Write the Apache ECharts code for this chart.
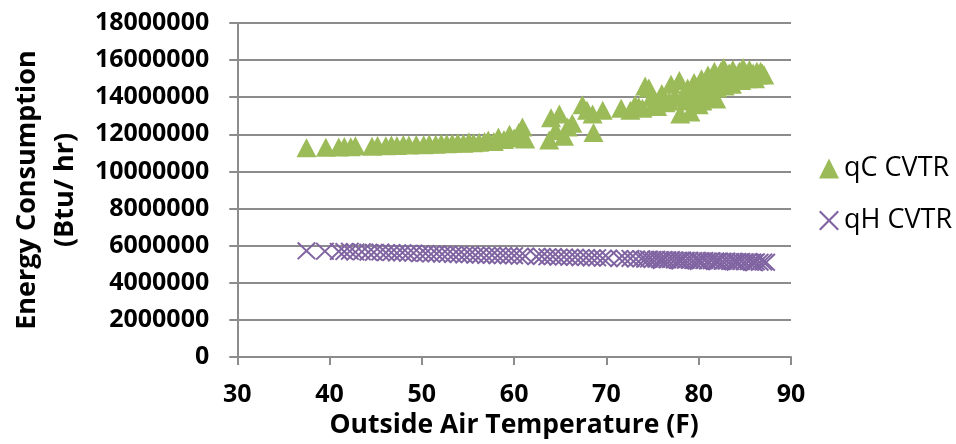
<!DOCTYPE html>
<html>
<head>
<meta charset="utf-8">
<script src="https://cdn.jsdelivr.net/npm/echarts@6/dist/echarts.min.js"></script>
<style>
  html, body { margin: 0; padding: 0; background: #ffffff; }
  #chart { width: 956px; height: 444px; }
</style>
</head>
<body>
<div id="chart"></div>
<script>
// Cooling load (qC) vs outside air temperature, millions of Btu/hr
const tempC = [37.5, 39.6, 41.0, 41.6, 42.3, 42.8, 44.6, 45.2, 46.1, 46.7, 47.3, 48.0, 48.6, 49.4, 50.2, 50.8,
  51.5, 52.1, 52.7, 53.3, 53.9, 54.5, 55.1, 55.6, 56.2, 56.8, 57.2, 57.8, 58.3, 58.9, 59.5, 60.0, 60.5, 60.9,
  61.2, 63.8, 64.0, 64.5, 64.9, 65.4, 65.8, 66.3, 67.4, 67.9, 68.5, 68.6, 69.6, 71.6, 72.6, 73.1, 73.5, 73.9, 74.2,
  74.6, 74.9, 75.1, 75.5, 75.8, 76.0, 76.4, 76.8, 77.0, 77.4, 77.9, 78.0, 78.4, 78.6, 78.8, 79.1, 79.3, 79.5, 79.8,
  80.0, 80.3, 80.4, 80.6, 80.9, 81.0, 81.3, 81.5, 81.7, 81.9, 82.0, 82.3, 82.4, 82.7, 82.8, 83.0, 83.2, 83.3,
  83.6, 83.7, 84.0, 84.2, 84.4, 84.6, 84.8, 85.1, 85.3, 85.5, 85.7, 85.9, 86.1, 86.3, 86.5, 86.7, 86.9, 87.1];
const qC = [11.28, 11.30, 11.32, 11.35, 11.33, 11.38, 11.36, 11.40, 11.38, 11.42, 11.40, 11.45, 11.42, 11.45, 11.44, 11.48,
  11.47, 11.50, 11.49, 11.52, 11.55, 11.52, 11.60, 11.55, 11.58, 11.62, 11.70, 11.62, 11.85, 11.72, 12.00, 11.80, 12.10, 12.40,
  11.75, 11.70, 12.90, 12.20, 13.10, 11.90, 12.40, 12.60, 13.60, 13.30, 13.10, 12.10, 13.30, 13.40, 13.30, 13.60, 13.50, 13.40, 14.60,
  14.50, 14.00, 13.60, 13.50, 13.90, 14.20, 13.70, 13.80, 14.70, 14.00, 14.90, 13.10, 14.20, 13.80, 14.50, 13.20, 14.00, 14.80, 14.30,
  13.60, 15.00, 13.80, 14.00, 14.60, 15.20, 14.10, 14.80, 15.40, 13.90, 14.50, 14.90, 15.40, 15.60, 14.60, 14.80, 15.10, 15.30,
  14.70, 15.50, 15.00, 15.20, 15.40, 14.90, 15.60, 15.20, 15.00, 15.50, 15.20, 15.30, 15.00, 15.40, 15.20, 15.40, 15.30, 15.20];

// Heating load (qH) vs outside air temperature, millions of Btu/hr
const tempH = [37.5, 39.5, 41.0, 41.6, 42.2, 42.8, 43.5, 44.2, 44.8, 45.5, 46.1, 46.7, 47.3, 47.9, 48.5, 49.1, 49.8,
  50.4, 51.0, 51.6, 52.2, 52.8, 53.4, 54.0, 54.6, 55.2, 55.8, 56.4, 57.0, 57.6, 58.2, 58.8, 59.4, 60.0, 60.6, 61.2,
  62.4, 63.0, 63.6, 64.2, 64.8, 65.4, 66.0, 66.6, 67.2, 67.8, 68.4, 69.0, 69.6, 70.2, 71.4, 72.0, 72.6, 73.2, 73.8,
  74.2, 74.6, 75.0, 75.4, 75.8, 76.2, 76.6, 77.0, 77.4, 77.8, 78.2, 78.6, 79.0, 79.4, 79.8, 80.2, 80.6, 81.0, 81.4,
  81.8, 82.2, 82.6, 83.0, 83.4, 83.8, 84.2, 84.6, 85.0, 85.4, 85.8, 86.2, 86.6, 87.0, 87.3,
  76.0, 78.0, 80.0, 82.0, 84.0, 86.0];
const qH = [5.72, 5.70, 5.69, 5.68, 5.70, 5.66, 5.67, 5.65, 5.64, 5.66, 5.62, 5.63, 5.60, 5.62, 5.59, 5.60, 5.57,
  5.58, 5.55, 5.57, 5.54, 5.55, 5.52, 5.53, 5.50, 5.52, 5.49, 5.50, 5.47, 5.49, 5.46, 5.47, 5.45, 5.46, 5.43, 5.44,
  5.41, 5.42, 5.40, 5.41, 5.38, 5.39, 5.37, 5.38, 5.35, 5.36, 5.34, 5.35, 5.32, 5.33, 5.31, 5.30, 5.31, 5.28, 5.29,
  5.27, 5.28, 5.26, 5.27, 5.25, 5.26, 5.24, 5.25, 5.23, 5.22, 5.23, 5.21, 5.22, 5.20, 5.21, 5.19, 5.20, 5.18, 5.19,
  5.17, 5.18, 5.16, 5.17, 5.15, 5.16, 5.14, 5.15, 5.13, 5.14, 5.12, 5.13, 5.11, 5.12, 5.10,
  5.20, 5.17, 5.15, 5.13, 5.11, 5.08];

const xTicks = { min: 30, max: 90, step: 10 };
const yTicks = { min: 0, max: 18000000, step: 2000000 };

const toPairs = (xs, ys) => xs.map((x, i) => [x, ys[i] * 1e6]);

// Filled "x" glyph so the cross renders like a stroked marker
const crossPath = 'path://M0,1.5L1.5,0L10,8.5L18.5,0L20,1.5L11.5,10L20,18.5L18.5,20L10,11.5L1.5,20L0,18.5L8.5,10Z';

const FONT = '"Open Sans", "Liberation Sans", sans-serif';
const GRID_COLOR = '#8c8c8c';

const chart = echarts.init(document.getElementById('chart'), null, { renderer: 'canvas' });
chart.setOption({
  animation: false,
  backgroundColor: '#ffffff',
  grid: { left: 221, right: 165, top: 23, bottom: 87, containLabel: false },
  legend: {
    orient: 'vertical',
    left: 814,
    top: 150,
    itemWidth: 20,
    itemHeight: 20,
    itemGap: 25,
    textStyle: { fontFamily: FONT, fontSize: 27, color: '#000000' },
    data: ['qC CVTR', 'qH CVTR']
  },
  xAxis: {
    type: 'value',
    min: xTicks.min,
    max: xTicks.max,
    interval: xTicks.step,
    name: 'Outside Air Temperature (F)',
    nameLocation: 'middle',
    nameGap: 48,
    nameTextStyle: { fontFamily: FONT, fontSize: 26.5, fontWeight: 'bold', color: '#000000' },
    axisLine: { show: true, lineStyle: { color: GRID_COLOR, width: 2 } },
    axisTick: { show: true, length: 8, lineStyle: { color: GRID_COLOR, width: 2 } },
    axisLabel: { margin: 25, fontFamily: FONT, fontSize: 25, fontWeight: 'bold', color: '#000000' },
    splitLine: { show: false }
  },
  yAxis: {
    type: 'value',
    min: yTicks.min,
    max: yTicks.max,
    interval: yTicks.step,
    name: 'Energy Consumption\n(Btu/ hr)',
    nameLocation: 'middle',
    nameGap: 146,
    nameRotate: 90,
    nameTextStyle: { fontFamily: FONT, fontSize: 27, fontWeight: 'bold', color: '#000000', lineHeight: 38, align: 'center' },
    axisLine: { show: true, lineStyle: { color: GRID_COLOR, width: 2 } },
    axisTick: { show: true, length: 8, lineStyle: { color: GRID_COLOR, width: 2 } },
    axisLabel: {
      margin: 28,
      fontFamily: FONT, fontSize: 25, fontWeight: 'bold', color: '#000000',
      formatter: v => String(v)
    },
    splitLine: { show: true, lineStyle: { color: GRID_COLOR, width: 2 } }
  },
  series: [
    {
      name: 'qC CVTR',
      type: 'scatter',
      symbol: 'triangle',
      symbolSize: [20, 19],
      itemStyle: { color: '#9bbb59', opacity: 1 },
      data: toPairs(tempC, qC)
    },
    {
      name: 'qH CVTR',
      type: 'scatter',
      symbol: crossPath,
      symbolSize: [19, 18],
      itemStyle: { color: '#8064a2', opacity: 1 },
      data: toPairs(tempH, qH)
    }
  ]
});
</script>
</body>
</html>
